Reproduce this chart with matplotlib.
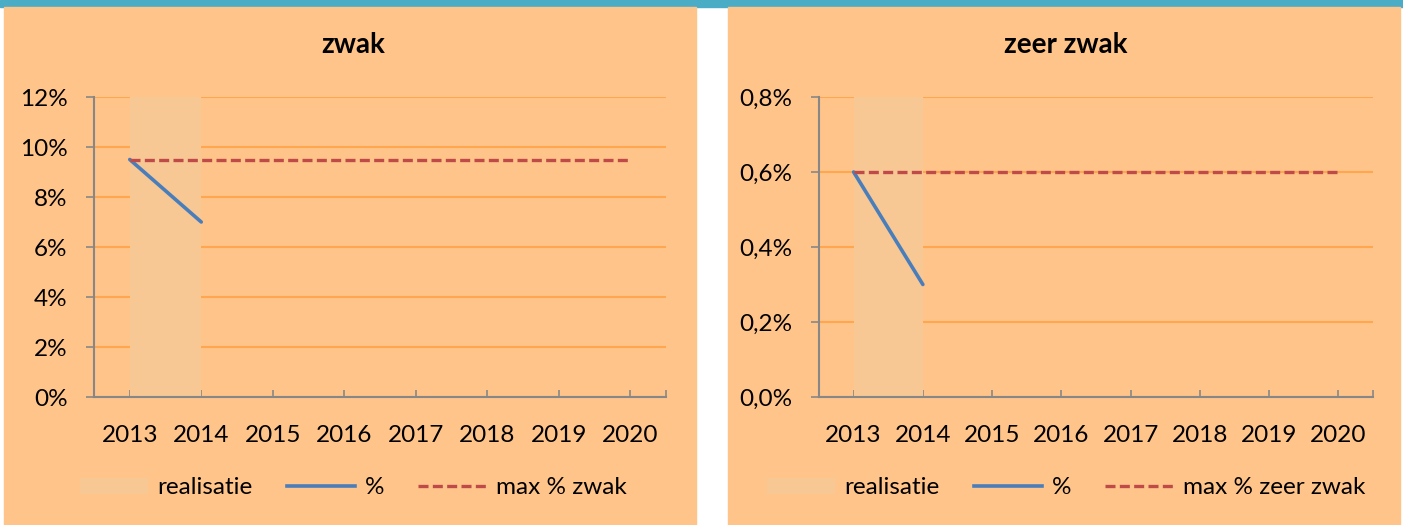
import matplotlib
matplotlib.use("Agg")
import matplotlib.pyplot as plt
from matplotlib.patches import Rectangle, Patch
from matplotlib.lines import Line2D
from matplotlib.ticker import FuncFormatter, MultipleLocator

plt.rcParams['font.family'] = ['Lato', 'DejaVu Sans']

years = [2013, 2014, 2015, 2016, 2017, 2018, 2019, 2020]
realisatie_years = [2013, 2014]

zwak_pct = [0.095, 0.070]
zwak_max = [0.095] * 8
zwak_real = [0.12, 0.12]

zeer_pct = [0.006, 0.003]
zeer_max = [0.006] * 8
zeer_real = [0.008, 0.008]

BG = '#FFC48A'
SHADE = '#F7C794'
GRID = '#FFA64F'
AXIS = '#878787'
BLUE = '#4A7EBB'
RED = '#BE4B48'
TEAL = '#4BACC6'
FS = 17.5

W, H = 1403, 525
fig = plt.figure(figsize=(W / 100, H / 100), dpi=100, facecolor='white')


def fx(px):
    return px / W


def fy(py):
    return 1 - py / H


# top band and the two chart panels (behind the axes)
fig.patches.append(Rectangle((0, fy(7)), 1, 7 / H, transform=fig.transFigure,
                             color=TEAL, zorder=-5))
fig.patches.append(Rectangle((fx(4), 0), fx(692), fy(7), transform=fig.transFigure,
                             color=BG, zorder=-5))
fig.patches.append(Rectangle((fx(728), 0), fx(672), fy(7), transform=fig.transFigure,
                             color=BG, zorder=-5))


def panel(left_px, right_px, title, pct, maxv, real, ymax, step, fmt, maxlabel, center_px):
    ax = fig.add_axes([fx(left_px), fy(397), fx(right_px - left_px), 300 / H])
    ax.set_facecolor('none')
    ax.fill_between(realisatie_years, real, color=SHADE, lw=0, zorder=1)
    ax.plot(realisatie_years, pct, color=BLUE, lw=2.6, solid_capstyle='round', zorder=3)
    ax.plot(years, maxv, color=RED, lw=2.4, dashes=(3.0, 1.3), zorder=3)

    ax.set_xlim(2012.5, 2020.5)
    ax.set_ylim(0, ymax)
    ax.set_xticks(years)
    ax.set_xticks([2020.5], minor=True)
    ax.yaxis.set_major_locator(MultipleLocator(step))
    ax.yaxis.set_major_formatter(FuncFormatter(fmt))
    ax.grid(axis='y', color=GRID, lw=1.5, zorder=0)
    ax.set_axisbelow(True)

    for s in ['top', 'right']:
        ax.spines[s].set_visible(False)
    for s in ['left', 'bottom']:
        ax.spines[s].set_color(AXIS)
        ax.spines[s].set_linewidth(1.5)
    ax.tick_params(axis='x', which='both', direction='in', length=5, width=1.2,
                   color=AXIS, labelsize=FS, pad=20)
    ax.tick_params(axis='y', direction='out', length=6, width=1.2,
                   color=AXIS, labelsize=FS, pad=13)

    fig.text(fx(center_px), fy(45), title, ha='center', va='center',
             fontsize=20, fontweight='bold')

    handles = [Patch(facecolor=SHADE, edgecolor='none'),
               Line2D([], [], color=BLUE, lw=2.6),
               Line2D([], [], color=RED, lw=2.4, dashes=(3.0, 1.3))]
    fig.legend(handles, ['realisatie', '%', maxlabel], ncol=3,
               loc='center', bbox_to_anchor=(fx(center_px), fy(488)),
               frameon=False, fontsize=FS, handlelength=2.8, handletextpad=0.4,
               columnspacing=1.4, handleheight=0.6)
    return ax


panel(94, 666, 'zwak', zwak_pct, zwak_max, zwak_real, 0.12, 0.02,
      lambda v, p: f'{v * 100:.0f}%', 'max % zwak', 353)
panel(819, 1373, 'zeer zwak', zeer_pct, zeer_max, zeer_real, 0.008, 0.002,
      lambda v, p: f'{v * 100:.1f}%'.replace('.', ','), 'max % zeer zwak', 1066)

fig.savefig('out.png', dpi=100, facecolor='white')
